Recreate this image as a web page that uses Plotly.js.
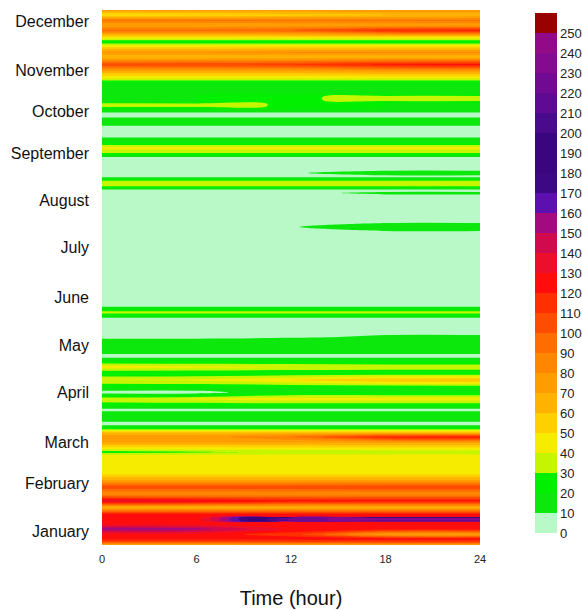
<!DOCTYPE html>
<html><head><meta charset="utf-8">
<script src="https://cdn.plot.ly/plotly-3.0.1.min.js"></script>
<style>html,body{margin:0;padding:0;background:#fff}#chart{width:582px;height:610px}</style>
</head><body><div id="chart"></div>
<script>
// hours of the day (columns)
const hours = [0, 6, 12, 18, 24];
// day of year (rows, bottom to top)
const days = [
  0,2.4,4.4,7.2,10.9,14.3,15.8,16.9,18.2,19.3,21.1,25.6,30.0,34.8,
  39.6,44.3,49.1,55.9,60.7,63.4,66.9,70.3,73.7,76.4,
  78.5,79.8,82.6,87.3,89.7,92.1,94.8,99.6,104.0,107.5,
  112.6,117.3,121.4,125.5,128.9,133.0,138.5,141.9,146.7,154.2,
  156.6,158.6,161.0,163.4,180.8,201.3,212.9,217.0,221.0,235.4,
  238.1,240.1,241.9,243.6,245.3,247.7,249.4,251.4,253.8,256.2,
  264.0,266.1,268.5,271.2,274.3,276.6,278.7,285.2,287.6,290.6,
  292.3,294.4,296.4,297.8,299.5,300.9,301.9,303.6,305.6,307.4,
  311.8,315.6,319.0,322.7,327.8,332.9,336.0,339.8,343.2,346.6,
  351.0,354.8,357.8,361.6,365
];
// values at each hour column
const h00 = [
  70,110,125,125,158,125,125,125,125,122,122,62,138,80,
  108,70,45,43,45,25,52,72,75,65,
  35,20,5,20,20,5,20,38,5,20,
  40,20,45,20,5,20,20,5,5,5,
  20,35,20,5,5,5,5,5,5,5,
  5,5,5,18,36,38,22,5,5,5,
  5,20,38,42,20,20,5,5,20,20,
  5,5,20,20,38,38,20,20,20,20,
  20,20,45,65,108,60,80,50,20,50,
  95,70,92,48,75
];
const h06 = [
  70,110,125,125,155,125,125,125,125,122,122,62,132,80,
  108,70,45,43,45,28,52,72,75,65,
  35,20,5,20,20,5,20,42,5,20,
  42,20,43,20,5,20,20,5,5,5,
  20,35,20,5,5,5,5,5,5,5,
  5,5,5,18,36,38,22,5,5,5,
  5,20,38,42,20,20,5,5,20,20,
  5,5,20,20,36,36,20,20,20,20,
  20,20,45,65,110,60,80,50,20,50,
  95,70,92,50,75
];
const h12 = [
  70,112,125,115,128,125,125,225,225,122,122,62,125,80,
  108,70,45,45,45,32,52,72,90,65,
  35,20,5,20,20,5,20,45,20,20,
  50,20,40,20,5,20,20,8,5,5,
  20,35,20,5,5,5,5,9,5,5,
  5,6,5,18,36,38,22,5,8,5,
  5,20,38,42,20,20,5,5,20,20,
  5,5,20,20,28,28,20,26,26,20,
  20,20,45,65,112,62,82,52,20,50,
  100,72,92,55,75
];
const h18 = [
  70,115,125,72,125,125,125,238,238,122,122,62,125,80,
  110,70,45,45,45,33,52,75,122,65,
  35,20,5,20,20,5,20,45,20,20,
  60,20,38,20,5,20,20,12,5,5,
  20,35,20,5,5,5,5,20,5,5,
  5,14,5,18,36,38,22,5,20,5,
  5,20,38,42,20,20,5,5,20,20,
  5,5,20,20,20,20,20,38,38,20,
  20,20,45,68,122,62,82,52,20,50,
  118,72,92,60,78
];
const h24 = [
  70,115,125,70,125,125,125,240,240,122,122,62,125,80,
  110,70,45,45,45,33,52,75,125,65,
  35,20,5,20,20,5,20,45,20,20,
  62,20,38,20,5,20,20,12,5,5,
  20,35,20,5,5,5,5,20,5,5,
  5,14,5,18,36,38,22,5,20,5,
  5,20,38,42,20,20,5,5,20,20,
  5,5,20,20,20,20,20,38,38,20,
  20,20,45,68,125,62,82,52,20,50,
  122,72,92,64,78
];
const monthLabels = ['January','February','March','April','May','June','July','August','September','October','November','December'];
const monthPos = [9, 42, 70, 104, 136, 169, 203, 235, 267, 296, 324, 357];
const hourTicks = [0, 6, 12, 18, 24];
const levelTicks = [0,10,20,30,40,50,60,70,80,90,100,110,120,130,140,150,160,170,180,190,200,210,220,230,240,250];
const bandColors = [
  '#b9f9c8','#0ce80c','#00f000','#c6f500','#f5ec00','#ffd000','#ffb300','#ff9c00','#ff8600','#ff6c00',
  '#ff4d00','#ff3000','#ff0d0d','#ec0f2c','#d10a4e','#a40a80','#5c10b0','#3d0884','#3a0680','#3a0680',
  '#4a0a8c','#5e0a92','#700a92','#840a8f','#920a88','#990000'
];

const z = days.map((d, i) => [h00[i], h06[i], h12[i], h18[i], h24[i]]);
const nBands = bandColors.length;
const colorscale = bandColors.map((c, i) => [i / (nBands - 1), c]);
const steppedScale = [];
bandColors.forEach((c, i) => { steppedScale.push([i / nBands, c]); steppedScale.push([(i + 1) / nBands, c]); });
const FONT = 'Liberation Sans, Arial, sans-serif';

const contourTrace = {
  type: 'contour',
  x: hours,
  y: days,
  z: z,
  autocontour: false,
  contours: {start: 10, end: 250, size: 10, coloring: 'fill', showlines: false},
  line: {width: 0, smoothing: 1},
  colorscale: colorscale,
  showscale: false,
  hoverinfo: 'x+y+z'
};

// colour key: 0–260 in steps of 10
const keyTrace = {
  type: 'scatter',
  mode: 'markers',
  x: [null],
  y: [null],
  showlegend: false,
  hoverinfo: 'skip',
  marker: {
    color: [0],
    cmin: 0,
    cmax: nBands * 10,
    colorscale: steppedScale,
    showscale: true,
    colorbar: {
      thickness: 22,
      lenmode: 'pixels',
      len: 520,
      y: (545 - 13) / 535,
      yanchor: 'top',
      ypad: 0,
      x: (535 - 102) / 378,
      xanchor: 'left',
      xpad: 0,
      outlinewidth: 0,
      ticks: '',
      tickmode: 'array',
      tickvals: levelTicks,
      tickfont: {family: FONT, size: 13, color: '#222'}
    }
  }
};

const layout = {
  width: 582,
  height: 610,
  margin: {l: 102, r: 102, t: 10, b: 65, autoexpand: false},
  paper_bgcolor: '#ffffff',
  plot_bgcolor: '#ffffff',
  font: {family: FONT, color: '#1a1a1a'},
  showlegend: false,
  xaxis: {
    range: [0, 24],
    tickmode: 'array',
    tickvals: hourTicks,
    ticks: '',
    showgrid: false,
    zeroline: false,
    showline: false,
    tickfont: {size: 11, color: '#222'},
    ticklabelstandoff: 6,
    title: {text: 'Time (hour)', font: {size: 20, color: '#111'}, standoff: 26}
  },
  yaxis: {
    range: [0, 365],
    tickmode: 'array',
    tickvals: monthPos,
    ticktext: monthLabels,
    ticks: '',
    showgrid: false,
    zeroline: false,
    showline: false,
    tickfont: {size: 16, color: '#111'},
    ticklabelstandoff: 12
  }
};

Plotly.newPlot('chart', [contourTrace, keyTrace], layout, {displayModeBar: false, staticPlot: true});
</script>
</body></html>
